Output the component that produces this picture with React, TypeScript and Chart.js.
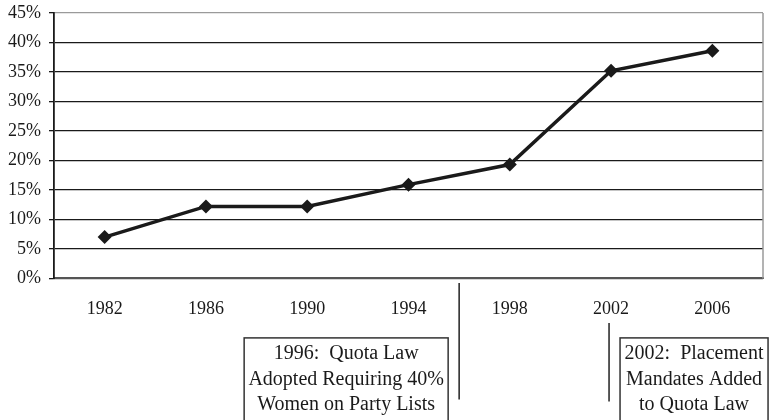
import React, { useEffect, useRef } from 'react';
import { Chart, registerables } from 'chart.js';

Chart.register(...registerables);

const years: string[] = ['1982', '1986', '1990', '1994', '1998', '2002', '2006'];
const womenShare: number[] = [7.0, 12.2, 12.2, 15.9, 19.3, 35.2, 38.6];
const yMin = 0;
const yMax = 45;
const yStep = 5;

// annotation anchors, expressed as (fractional) category positions on the x axis
const annotationAnchors: number[] = [3.5, 4.98];
const annotationTexts: string[][] = [
  ['1996:  Quota Law', 'Adopted Requiring 40%', 'Women on Party Lists'],
  ['2002:  Placement', 'Mandates Added', 'to Quota Law'],
];

const FONT = '"Liberation Serif", "Times New Roman", serif';

const annotationPlugin = {
  id: 'quotaAnnotations',
  beforeDatasetsDraw(chart: any) {
    const { ctx, chartArea } = chart;
    ctx.save();
    ctx.strokeStyle = '#9a9a9a';
    ctx.lineWidth = 1.5;
    ctx.beginPath();
    ctx.moveTo(chartArea.right, chartArea.top);
    ctx.lineTo(chartArea.right, chartArea.bottom);
    ctx.stroke();
    ctx.restore();
  },
  afterDraw(chart: any) {
    const { ctx, chartArea, scales } = chart;
    const xs = scales.x;
    const b = chartArea.bottom;
    ctx.save();
    const x1 = xs.getPixelForValue(annotationAnchors[0]);
    const x2 = xs.getPixelForValue(annotationAnchors[1]);
    ctx.strokeStyle = '#222';
    ctx.lineWidth = 1.5;
    ctx.beginPath();
    ctx.moveTo(x1, b + 4.5);
    ctx.lineTo(x1, b + 121);
    ctx.moveTo(x2, b + 44.5);
    ctx.lineTo(x2, b + 123);
    ctx.stroke();

    const boxes = [
      { left: x1 - 215, right: x1 - 11 },
      { left: x2 + 11, right: x2 + 159 },
    ];
    const top = b + 59.5;
    ctx.strokeStyle = '#333';
    ctx.lineWidth = 1.5;
    ctx.font = `20px ${FONT}`;
    ctx.fillStyle = '#1a1a1a';
    ctx.textAlign = 'center';
    ctx.textBaseline = 'middle';
    boxes.forEach((bx, i) => {
      ctx.strokeRect(bx.left, top, bx.right - bx.left, 200);
      const cx = (bx.left + bx.right) / 2;
      annotationTexts[i].forEach((line, j) => {
        ctx.fillText(line, cx, top + 16 + j * 25.5);
      });
    });
    ctx.restore();
  },
};

export default function App() {
  const canvasRef = useRef<HTMLCanvasElement | null>(null);

  useEffect(() => {
    document.body.style.margin = '0';
    const canvas = canvasRef.current;
    if (!canvas) return;
    const chart = new Chart(canvas, {
      type: 'line',
      data: {
        labels: years,
        datasets: [
          {
            data: womenShare,
            borderColor: '#1a1a1a',
            backgroundColor: '#1a1a1a',
            borderWidth: 3.5,
            pointStyle: 'rectRot',
            pointRadius: 7,
            pointBackgroundColor: '#1a1a1a',
            pointBorderColor: '#1a1a1a',
            pointBorderWidth: 0,
            tension: 0,
            fill: false,
          },
        ],
      },
      options: {
        responsive: false,
        animation: false,
        devicePixelRatio: 1,
        layout: { padding: { left: 0, right: 11, top: 13, bottom: 80 } },
        plugins: {
          legend: { display: false },
          tooltip: { enabled: false },
          title: { display: false },
        },
        scales: {
          x: {
            type: 'category',
            offset: true,
            grid: { display: false, drawTicks: false },
            border: { display: true, color: '#555', width: 2 },
            ticks: {
              padding: 20,
              color: '#1a1a1a',
              font: { family: FONT, size: 18 },
              maxRotation: 0,
            },
          },
          y: {
            min: yMin,
            max: yMax,
            afterFit: (scale: any) => {
              scale.width = 54;
              scale.paddingTop = 0;
              scale.paddingBottom = 0;
            },
            grid: {
              color: (c: any) =>
                c.tick && c.tick.value === yMax ? '#9a9a9a' : c.tick && c.tick.value === yMin ? '#555' : '#1a1a1a',
              lineWidth: 1.3,
              drawTicks: true,
              tickLength: 5,
              tickColor: '#1a1a1a',
            },
            border: { display: true, color: '#1a1a1a', width: 1.8 },
            ticks: {
              stepSize: yStep,
              padding: 8,
              color: '#1a1a1a',
              font: { family: FONT, size: 18 },
              callback: (v: any) => `${v}%`,
            },
          },
        },
      },
      plugins: [annotationPlugin],
    });
    return () => chart.destroy();
  }, []);

  return (
    <div style={{ width: 774, height: 420, background: '#fff' }}>
      <canvas ref={canvasRef} width={774} height={420} style={{ width: 774, height: 420, display: 'block' }} />
    </div>
  );
}
